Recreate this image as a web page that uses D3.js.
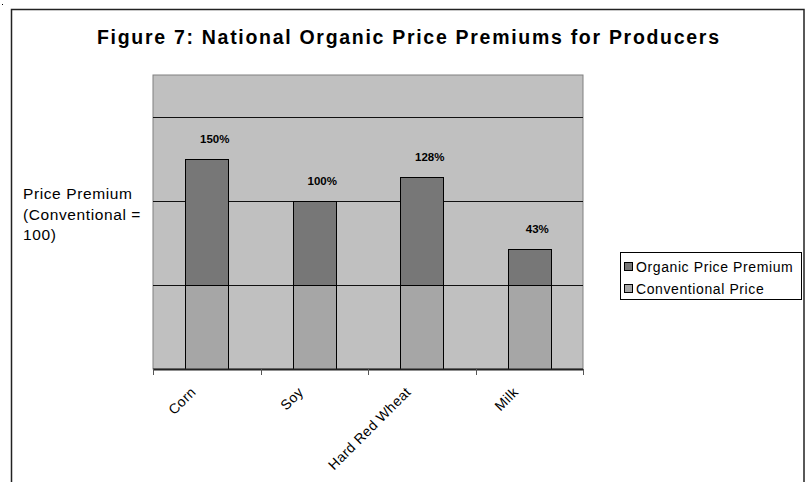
<!DOCTYPE html>
<html>
<head>
<meta charset="utf-8">
<script src="https://cdn.jsdelivr.net/npm/d3@7"></script>
<style>
  body { margin: 0; background: #fff; }
  text { font-family: "Liberation Sans", Arial, sans-serif; fill: #000; }
</style>
</head>
<body>
<div id="chart"></div>
<script>
// data
var categories = ["Corn", "Soy", "Hard Red Wheat", "Milk"];
var conventional = [100, 100, 100, 100];
var premium = [150, 100, 128, 43];
var premiumLabels = ["150%", "100%", "128%", "43%"];
var gridValues = [100, 200, 300];
var seriesNames = ["Organic Price Premium", "Conventional Price"];

var W = 806, H = 482;
var plot = {left: 153, right: 583, top: 75, bottom: 369};
var colPremium = "#777777", colConv = "#a6a6a6", colBg = "#c0c0c0";

var svg = d3.select("#chart").append("svg")
    .attr("width", W)
    .attr("height", H);

// outer chart frame (runs past the bottom of the picture)
svg.append("rect")
    .attr("x", 11.5).attr("y", 9.5)
    .attr("width", 792.5).attr("height", 500)
    .attr("fill", "none").attr("stroke", "#222").attr("stroke-width", 1.5);
svg.append("rect").attr("x", 2).attr("y", 4).attr("width", 1).attr("height", 1).attr("fill", "#000");

// title
svg.append("text")
    .attr("x", 97).attr("y", 44)
    .attr("font-size", 19.5).attr("font-weight", "bold")
    .attr("textLength", 622).attr("lengthAdjust", "spacing")
    .text("Figure 7:  National Organic Price Premiums for Producers");

var x = d3.scaleBand()
    .domain(categories)
    .range([plot.left, plot.right])
    .paddingInner(0.6)
    .paddingOuter(0.3);

var y = d3.scaleLinear()
    .domain([0, 350])
    .range([plot.bottom, plot.top]);

// plot background
svg.append("rect")
    .attr("x", plot.left).attr("y", plot.top)
    .attr("width", plot.right - plot.left).attr("height", plot.bottom - plot.top)
    .attr("fill", colBg).attr("stroke", "#808080").attr("stroke-width", 1);

// gridlines
svg.append("g").selectAll("line")
    .data(gridValues)
    .enter().append("line")
    .attr("x1", plot.left).attr("x2", plot.right)
    .attr("y1", function(d) { return Math.round(y(d)) + 0.5; })
    .attr("y2", function(d) { return Math.round(y(d)) + 0.5; })
    .attr("stroke", "#111").attr("stroke-width", 1);

var rows = categories.map(function(c, i) {
    return {cat: c, conv: conventional[i], prem: premium[i], label: premiumLabels[i]};
});

// conventional segment
svg.append("g").selectAll("rect")
    .data(rows)
    .enter().append("rect")
    .attr("x", function(d) { return Math.round(x(d.cat)) + 0.5; })
    .attr("y", function(d) { return Math.round(y(d.conv)) + 0.5; })
    .attr("width", x.bandwidth())
    .attr("height", function(d) { return Math.round(y(0)) - Math.round(y(d.conv)); })
    .attr("fill", colConv).attr("stroke", "#000").attr("stroke-width", 1);

// premium segment on top
svg.append("g").selectAll("rect")
    .data(rows)
    .enter().append("rect")
    .attr("x", function(d) { return Math.round(x(d.cat)) + 0.5; })
    .attr("y", function(d) { return Math.round(y(d.conv + d.prem)) + 0.5; })
    .attr("width", x.bandwidth())
    .attr("height", function(d) { return Math.round(y(d.conv)) - Math.round(y(d.conv + d.prem)); })
    .attr("fill", colPremium).attr("stroke", "#000").attr("stroke-width", 1);

// value labels
svg.append("g").selectAll("text")
    .data(rows)
    .enter().append("text")
    .attr("x", function(d) { return x(d.cat) + x.bandwidth() / 2 + 8; })
    .attr("y", function(d) { return y(d.conv + d.prem) - 16; })
    .attr("text-anchor", "middle")
    .attr("font-size", 11.5).attr("font-weight", "bold")
    .text(function(d) { return d.label; });

// x axis: line + ticks at category boundaries
var step = x.step();
var tickPos = d3.range(categories.length + 1).map(function(i) { return plot.left + i * step; });
svg.append("line")
    .attr("x1", plot.left).attr("x2", plot.right)
    .attr("y1", plot.bottom + 0.5).attr("y2", plot.bottom + 0.5)
    .attr("stroke", "#222").attr("stroke-width", 2);
svg.append("g").selectAll("line")
    .data(tickPos)
    .enter().append("line")
    .attr("x1", function(d) { return Math.round(d) + 0.5; })
    .attr("x2", function(d) { return Math.round(d) + 0.5; })
    .attr("y1", plot.bottom).attr("y2", plot.bottom + 6)
    .attr("stroke", "#555").attr("stroke-width", 1);

// rotated category labels
svg.append("g").selectAll("text")
    .data(categories)
    .enter().append("text")
    .attr("transform", function(d) {
        return "translate(" + (x(d) + x.bandwidth() / 2 - 10) + "," + (plot.bottom + 24) + ") rotate(-45)";
    })
    .attr("text-anchor", "end")
    .attr("font-size", 14)
    .attr("letter-spacing", 0.4)
    .text(function(d) { return d; });

// y axis title
var yTitle = ["Price Premium", "(Conventional =", "100)"];
svg.append("g").selectAll("text")
    .data(yTitle)
    .enter().append("text")
    .attr("x", 23)
    .attr("y", function(d, i) { return 199 + i * 20.5; })
    .attr("font-size", 15.5)
    .attr("letter-spacing", 0.6)
    .text(function(d) { return d; });

// legend
var legend = svg.append("g");
legend.append("rect")
    .attr("x", 620.5).attr("y", 252.5)
    .attr("width", 181).attr("height", 47)
    .attr("fill", "#fff").attr("stroke", "#000").attr("stroke-width", 1);
var items = legend.selectAll("g")
    .data(seriesNames)
    .enter().append("g")
    .attr("transform", function(d, i) { return "translate(624," + (262 + i * 22) + ")"; });
items.append("rect")
    .attr("x", 0.5).attr("y", 0.5)
    .attr("width", 8).attr("height", 8)
    .attr("fill", function(d, i) { return i === 0 ? colPremium : colConv; })
    .attr("stroke", "#000").attr("stroke-width", 1);
items.append("text")
    .attr("x", 12).attr("y", 9.5)
    .attr("font-size", 14)
    .attr("letter-spacing", 0.6)
    .text(function(d) { return d; });
</script>
</body>
</html>
